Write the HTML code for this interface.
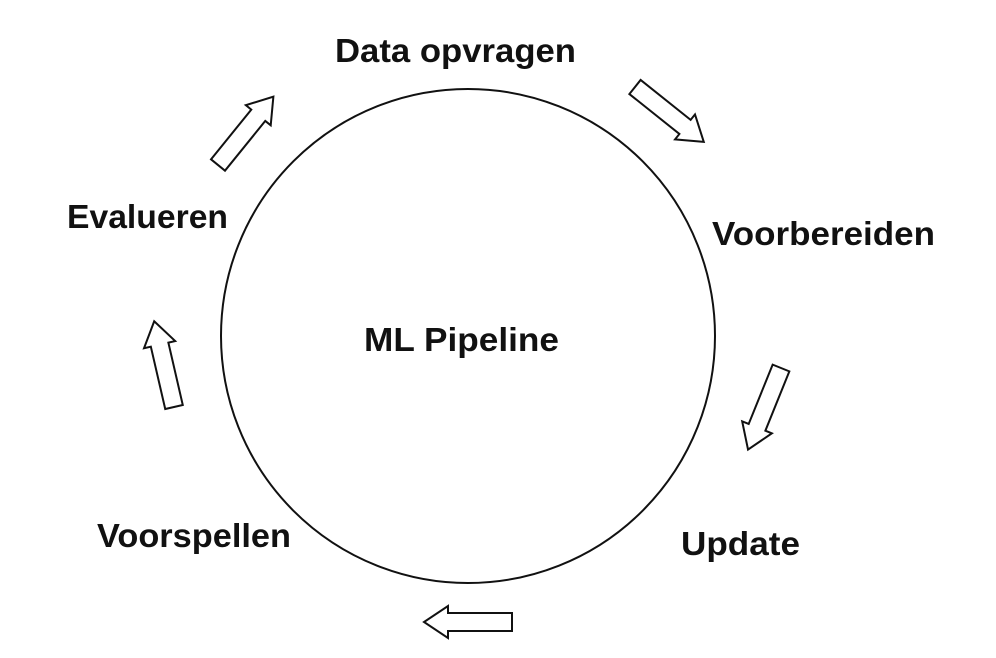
<!DOCTYPE html>
<html><head><style>html,body{margin:0;padding:0;background:#fff}</style></head>
<body>
<svg width="996" height="653" viewBox="0 0 996 653" xmlns="http://www.w3.org/2000/svg">
<defs>
<path id="ar" d="M0,-9 L64,-9 L64,-16 L88,0 L64,16 L64,9 L0,9 Z" fill="#fff" stroke="#111" stroke-width="2" stroke-linejoin="miter"/>
</defs>
<circle cx="468" cy="336" r="247" fill="none" stroke="#111" stroke-width="2"/>
<use href="#ar" transform="translate(635,87) rotate(38.6)"/>
<use href="#ar" transform="translate(781,368) rotate(112)"/>
<use href="#ar" transform="translate(512,622) rotate(180)"/>
<use href="#ar" transform="translate(174,407) rotate(-103)"/>
<use href="#ar" transform="translate(218,165) rotate(-51)"/>
<g font-family="Liberation Sans, sans-serif" font-weight="bold" font-size="33" fill="#111">
<text x="335" y="62" textLength="241" lengthAdjust="spacingAndGlyphs">Data opvragen</text>
<text x="712" y="245" textLength="223" lengthAdjust="spacingAndGlyphs">Voorbereiden</text>
<text x="67" y="228" textLength="161" lengthAdjust="spacingAndGlyphs">Evalueren</text>
<text x="364" y="351" textLength="195" lengthAdjust="spacingAndGlyphs">ML Pipeline</text>
<text x="97" y="547" textLength="194" lengthAdjust="spacingAndGlyphs">Voorspellen</text>
<text x="681" y="555" textLength="119" lengthAdjust="spacingAndGlyphs">Update</text>
</g>
</svg>
</body></html>
